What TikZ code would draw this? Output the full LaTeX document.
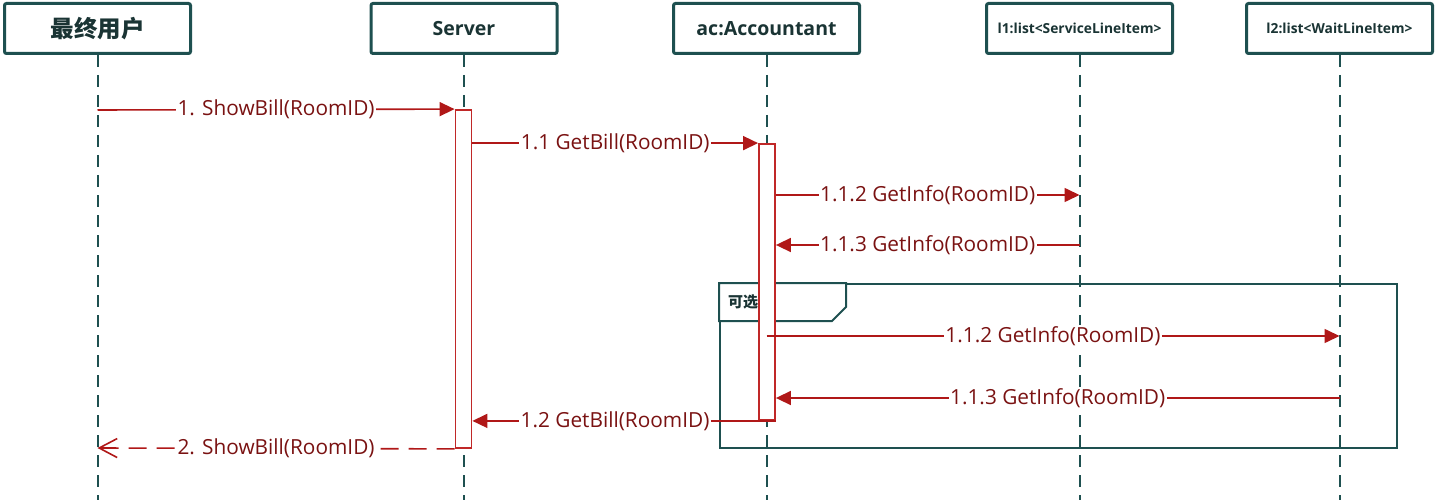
\documentclass[tikz,border=0pt]{standalone}
\usepackage{fontspec}
\setmainfont{Open Sans}
\newfontfamily\cjk{Noto Sans CJK SC}
\usetikzlibrary{arrows.meta}
\definecolor{teal1}{HTML}{1E5050}
\definecolor{headtxt}{HTML}{1A3434}
\definecolor{msgred}{HTML}{B01818}
\definecolor{lblred}{HTML}{7A1212}
\definecolor{actred}{HTML}{C02828}
\begin{document}
\begin{tikzpicture}[x=1pt,y=-1pt,
 head/.style={draw=teal1, line width=3pt, rounded corners=2pt, fill=white,
   minimum height=50pt, minimum width=186pt, inner sep=0pt, text=headtxt,
   font=\bfseries\fontsize{19.5}{22}\selectfont},
 smallhead/.style={head, font=\bfseries\fontsize{13.8}{16}\selectfont},
 life/.style={draw=teal1, line width=2pt, dash pattern=on 12pt off 8pt},
 act/.style={draw=actred, line width=1.8pt, fill=white, minimum width=16pt, inner sep=0pt},
 msg/.style={draw=msgred, line width=1.6pt, -{Triangle[length=15pt,width=14pt]}},
 ret/.style={draw=msgred, line width=1.6pt, dash pattern=on 18pt off 10pt,
   -{Straight Barb[length=18pt,width=19pt,line width=1.6pt]}},
 lbl/.style={fill=white, text=lblred, inner sep=1.5pt, font=\fontsize{20.8}{23}\selectfont},
 frame/.style={draw=teal1, line width=2pt}
]
\useasboundingbox (0,0) rectangle (1438,500);

% lifeline heads
\node[head] (user) at (97.5,28.5) {\cjk\bfseries\fontsize{23.5}{26}\selectfont 最终用户};
\node[head] (srv) at (464,28.5) {Server};
\node[head] (acc) at (766.5,28.5) {ac:Accountant};
\node[smallhead] (la) at (1079.5,28.5) {l1:list<ServiceLineItem>};
\node[smallhead] (lb) at (1339.5,28.5) {l2:list<WaitLineItem>};

% lifeline ends
\coordinate (userE) at (97.5,500);
\coordinate (srvE) at (464,500);
\coordinate (accE) at (766.5,500);
\coordinate (laE) at (1079.5,500);
\coordinate (lbE) at (1339.5,500);

\draw[life] (user.south) -- (userE);
\draw[life] (srv.south) -- (srvE);
\draw[life] (acc.south) -- (accE);
\draw[life] (la.south) -- (laE);
\draw[life] (lb.south) -- (lbE);

% combined fragment
\node[frame, minimum width=677pt, minimum height=164pt, inner sep=0pt, anchor=north west] (frag) at (719,283) {};
\draw[frame, fill=white] (frag.north west) -- (846,283) -- (846,307) -- (832,321) -- (719,321) -- cycle;
\node[text=headtxt, inner sep=0pt, font=\cjk\bfseries\fontsize{15}{17}\selectfont] (fraglbl) at (743,302) {可选};

% activations
\node[act, minimum height=338pt] (sact) at (463.5,279) {};
\node[act, minimum height=276pt] (aact) at (767,282) {};

% message end points
\coordinate (u1) at (user |- 0,110);
\coordinate (l1a) at (la |- 0,195);
\coordinate (l1b) at (la |- 0,245);
\coordinate (accf) at (acc |- 0,336);
\coordinate (l2a) at (lb |- 0,336);
\coordinate (l2b) at (lb |- 0,398);
\coordinate (u2) at (user |- 0,448);

\draw[msg] (u1) -- (sact.north west) node[lbl, midway] {1. ShowBill(RoomID)};
\draw[msg] (sact.east |- aact.north) -- (aact.north west) node[lbl, midway] {1.1 GetBill(RoomID)};
\draw[msg] (aact.east |- l1a) -- (l1a) node[lbl, midway] {1.1.2 GetInfo(RoomID)};
\draw[msg] (l1b) -- (aact.east |- l1b) node[lbl, midway] {1.1.3 GetInfo(RoomID)};
\draw[msg] (accf) -- (l2a) node[lbl, midway] {1.1.2 GetInfo(RoomID)};
\draw[msg] (l2b) -- (aact.east |- l2b) node[lbl, midway] {1.1.3 GetInfo(RoomID)};
\draw[msg] (aact.south east) -- (sact.east |- aact.south) node[lbl, pos=0.53] {1.2 GetBill(RoomID)};
\draw[ret] (sact.south west) -- (u2) node[lbl, midway] {2. ShowBill(RoomID)};
\end{tikzpicture}
\end{document}
